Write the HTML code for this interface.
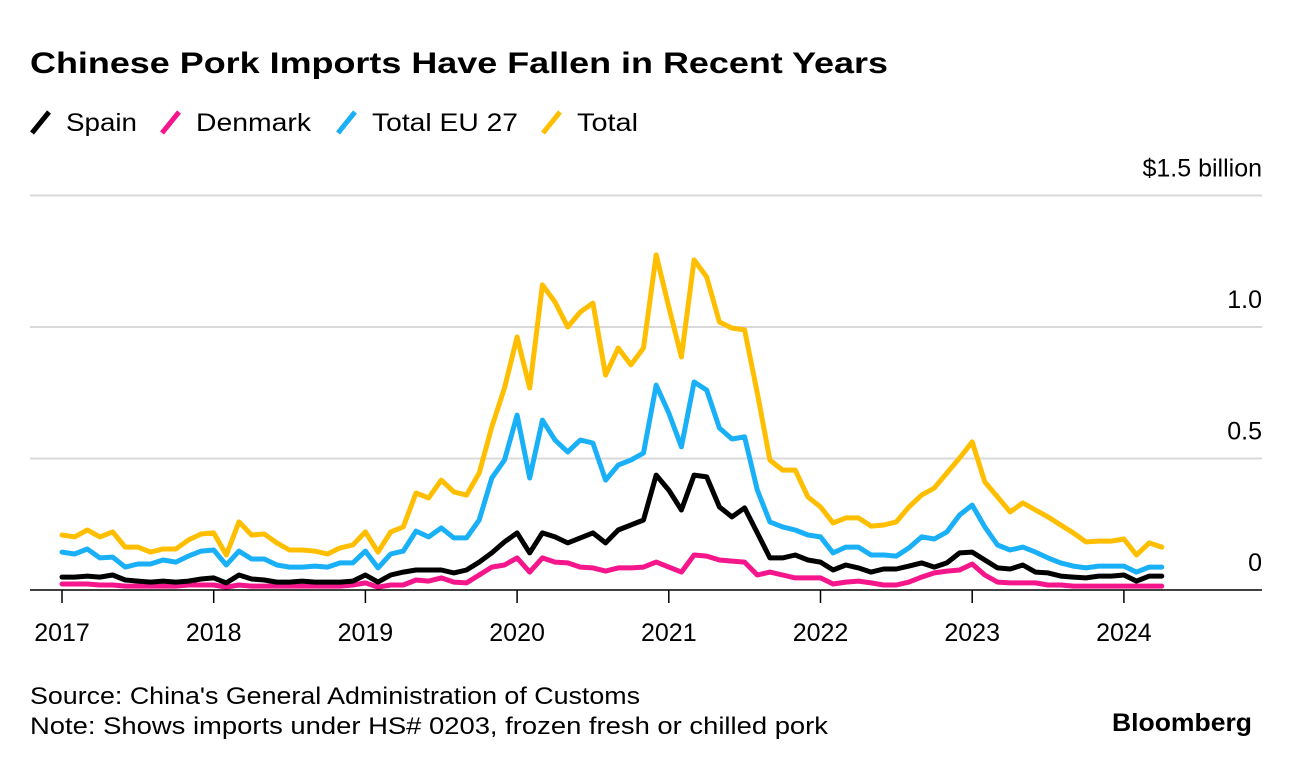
<!DOCTYPE html>
<html><head><meta charset="utf-8"><style>
html,body{margin:0;padding:0;background:#fff;}
svg{display:block;font-family:"Liberation Sans",Arial,sans-serif;}
</style></head><body>
<svg id="chart" width="1292" height="766" viewBox="0 0 1292 766" xmlns="http://www.w3.org/2000/svg">
<text x="30" y="73" font-size="30" font-weight="bold" fill="#000" textLength="858" lengthAdjust="spacingAndGlyphs">Chinese Pork Imports Have Fallen in Recent Years</text>
<g>
<g><line x1="32" y1="133" x2="49" y2="112" stroke="#000" stroke-width="5"/><text x="66" y="131" font-size="25" textLength="71" lengthAdjust="spacingAndGlyphs">Spain</text></g>
<g><line x1="162" y1="133" x2="179" y2="112" stroke="#f5168c" stroke-width="5"/><text x="196" y="131" font-size="25" textLength="115" lengthAdjust="spacingAndGlyphs">Denmark</text></g>
<g><line x1="338" y1="133" x2="355" y2="112" stroke="#1ab0f8" stroke-width="5"/><text x="372" y="131" font-size="25" textLength="146" lengthAdjust="spacingAndGlyphs">Total EU 27</text></g>
<g><line x1="543" y1="133" x2="560" y2="112" stroke="#ffbf00" stroke-width="5"/><text x="577" y="131" font-size="25" textLength="61" lengthAdjust="spacingAndGlyphs">Total</text></g>
</g>
<g id="grid"></g>
<g id="yticks"></g>
<g id="series"></g>
<g id="xaxis"></g>
<text x="30" y="704" font-size="24" fill="#000" textLength="610" lengthAdjust="spacingAndGlyphs">Source: China's General Administration of Customs</text>
<text x="30" y="734" font-size="24" fill="#000" textLength="798" lengthAdjust="spacingAndGlyphs">Note: Shows imports under HS# 0203, frozen fresh or chilled pork</text>
<text x="1252" y="731" font-size="25" font-weight="bold" text-anchor="end" fill="#000" textLength="140" lengthAdjust="spacingAndGlyphs">Bloomberg</text>
</svg>
<script>
const yearLabels = ["2017","2018","2019","2020","2021","2022","2023","2024"];
const yTicks = [0, 0.5, 1.0, 1.5];
const yTickLabels = ["0","0.5","1.0","$1.5 billion"];
const total = [
.209,.202,.228,.202,.221,.163,.163,.144,.156,.156,.190,.213,
.217,.133,.259,.209,.213,.179,.152,.152,.148,.137,.160,.171,
.221,.144,.221,.240,.369,.350,.418,.373,.361,.445,.620,.768,
.962,.768,1.160,1.095,1.0,1.057,1.091,.817,.920,.856,.920,1.274,
1.076,.886,1.255,1.190,1.019,.996,.989,.749,.494,.456,.456,.354,
.316,.255,.274,.274,.243,.247,.259,.316,.361,.388,.445,.502,
.563,.411,.354,.297,.331,.304,.278,.247,.217,.183,.186,.186,
.194,.133,.179,.163];
const eu27 = [
.144,.137,.156,.122,.125,.087,.099,.099,.114,.106,.129,.148,
.152,.095,.148,.118,.118,.095,.087,.087,.091,.087,.103,.103,
.148,.084,.137,.148,.224,.202,.236,.198,.198,.266,.426,.494,
.665,.426,.646,.570,.525,.570,.559,.418,.475,.494,.521,.779,
.673,.544,.791,.760,.616,.574,.582,.380,.259,.240,.228,.209,
.202,.141,.163,.163,.133,.133,.129,.160,.202,.194,.221,.285,
.323,.240,.171,.152,.163,.144,.122,.103,.091,.084,.091,.091,
.091,.068,.087,.087];
const spain = [
.049,.049,.053,.049,.057,.038,.034,.030,.034,.030,.034,.042,
.046,.027,.057,.042,.038,.030,.030,.034,.030,.030,.030,.034,
.057,.030,.057,.068,.076,.076,.076,.065,.076,.106,.141,.183,
.217,.141,.217,.202,.179,.198,.217,.179,.228,.247,.266,.437,
.380,.304,.437,.430,.316,.278,.312,.217,.122,.122,.133,.114,
.106,.076,.095,.084,.068,.080,.080,.091,.103,.087,.103,.141,
.144,.114,.084,.080,.095,.068,.065,.053,.049,.046,.053,.053,
.057,.034,.053,.053];
const denmark = [
.023,.023,.023,.019,.019,.015,.015,.015,.015,.015,.019,.019,
.019,.011,.019,.015,.015,.015,.015,.015,.015,.015,.015,.019,
.027,.011,.019,.019,.038,.034,.046,.030,.027,.057,.087,.095,
.122,.068,.122,.106,.103,.087,.084,.072,.084,.084,.087,.106,
.087,.068,.133,.129,.114,.110,.106,.057,.068,.057,.046,.046,
.046,.023,.030,.034,.027,.019,.019,.030,.049,.065,.072,.076,
.099,.057,.030,.027,.027,.027,.019,.019,.015,.015,.015,.015,
.015,.015,.015,.015];

const NS = "http://www.w3.org/2000/svg";
const x0 = 62, pxPerMonth = 151.7/12, y0 = 590, pxPerUnit = 263;
function xScale(i){ return x0 + i*pxPerMonth; }
function yScale(v){ return y0 - v*pxPerUnit; }
function mk(tag, attrs, parent){ const e=document.createElementNS(NS,tag); for(const k in attrs) e.setAttribute(k,attrs[k]); parent.appendChild(e); return e; }

const grid=document.getElementById('grid'), yt=document.getElementById('yticks');
yTicks.forEach((t,i)=>{
  if(t>0){
    const l=mk('line',{x1:30,x2:1262,y1:yScale(t),y2:yScale(t),stroke:'#d9d9d9','stroke-width':2},grid);
    
    
  }
  const tx=mk('text',{x:1262,y:yScale(t)-19,'font-size':25,'text-anchor':'end',fill:'#000'},yt);
  tx.textContent=yTickLabels[i];
  
  
});

const seriesG=document.getElementById('series');
[[total,'#ffbf00','line-total'],[eu27,'#1ab0f8','line-total-eu27'],[denmark,'#f5168c','line-denmark'],[spain,'#000','line-spain']].forEach(([d,c,n])=>{
  const p=mk('polyline',{points:d.map((v,i)=>xScale(i).toFixed(1)+','+yScale(v).toFixed(1)).join(' '),fill:'none',stroke:c,'stroke-width':5,'stroke-linejoin':'round','stroke-linecap':'round'},seriesG);
  
  
});

const xa=document.getElementById('xaxis');
const ax=mk('line',{x1:30,x2:1262,y1:y0,y2:y0,stroke:'#000','stroke-width':1.5},xa);


yearLabels.forEach((lab,i)=>{
  const x=xScale(i*12);
  const tk=mk('line',{x1:x,x2:x,y1:y0,y2:y0+13,stroke:'#000','stroke-width':1.5},xa);
  
  
  const t=mk('text',{x:x,y:641,'font-size':25,'text-anchor':'middle',fill:'#000'},xa);
  t.textContent=lab;
  
  
});
</script>
</body></html>
